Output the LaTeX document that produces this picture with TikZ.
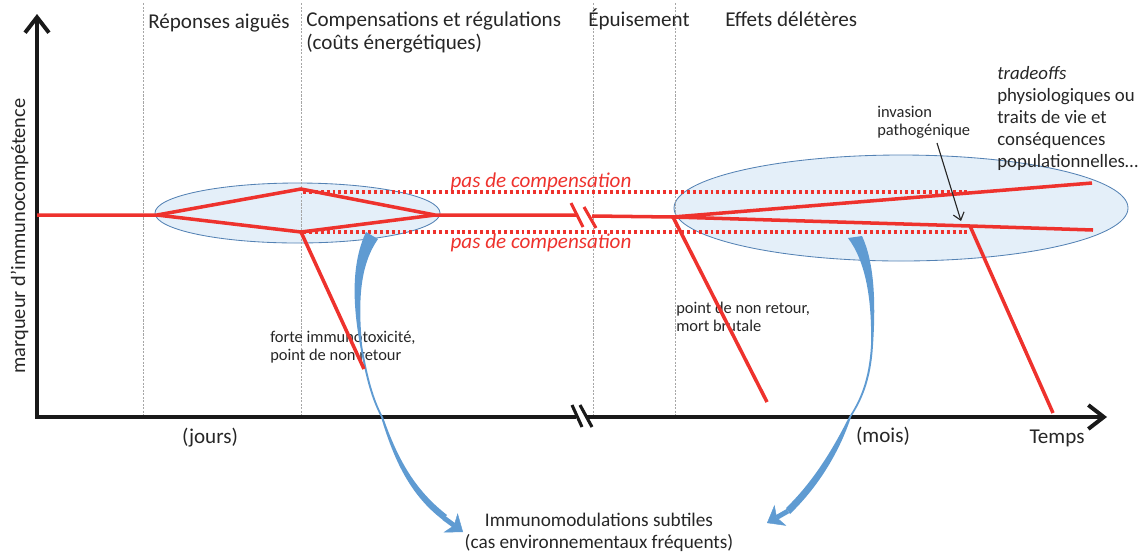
\documentclass[tikz,border=0pt]{standalone}
\usepackage{fontspec}
\setmainfont{Carlito}
\usetikzlibrary{arrows.meta}

\definecolor{redline}{RGB}{238,50,45}
\definecolor{zonefill}{RGB}{228,239,249}
\definecolor{zonedraw}{RGB}{84,130,180}
\definecolor{bluearrow}{RGB}{95,155,210}
\definecolor{textgray}{RGB}{38,38,38}

\begin{document}
\begin{tikzpicture}[x=0.025cm, y=-0.025cm,
  axis/.style={line width=2.8pt, black!90},
  curve/.style={line width=2.5pt, redline},
  nocomp/.style={line width=2.2pt, redline, dash pattern=on 2.1pt off 2.1pt},
  phase/.style={gray!70, line width=0.5pt, dash pattern=on 1.5pt off 1pt},
  zone/.style={fill=zonefill, draw=zonedraw, line width=0.6pt},
  header/.style={font=\fontsize{15pt}{16.3pt}\selectfont, text=textgray, inner sep=0pt, align=left},
  note/.style={font=\fontsize{11.7pt}{12.8pt}\selectfont, text=textgray, inner sep=0pt, align=left},
  side/.style={font=\fontsize{13.4pt}{15.6pt}\selectfont, text=textgray, inner sep=0pt, align=left}]

  \useasboundingbox (0,0) rectangle (1141,555);

  % Zones
  \draw[zone] (297.5,213) ellipse [x radius=142.5, y radius=30];
  \draw[zone] (901,208) ellipse [x radius=227, y radius=53];

  % Phase separators
  \foreach \x in {143,301,593,675}
    \draw[phase] (\x,3) -- (\x,417);

  % Headers (multi-line nodes sit on their last baseline)
  \node[header, anchor=base west] (acute) at (148,28) {Réponses aiguës};
  \node[header, anchor=base west] (comp) at (306,49) {Compensations et régulations\\(coûts énergétiques)};
  \node[header, anchor=base west] (exhaust) at (588,26) {Épuisement};
  \node[header, anchor=base west] (harm) at (725,26) {Effets délétères};

  % Axis labels
  \node[header, anchor=base, rotate=90, font=\fontsize{14.5pt}{16pt}\selectfont] (ylab) at (25,236) {marqueur d’immunocompétence};
  \node[header, anchor=base] (days) at (210,443) {(jours)};
  \node[header, anchor=base] (months) at (883,442) {(mois)};
  \node[header, anchor=base] (time) at (1057,443) {Temps};

  % Notes
  \node[note, anchor=base west] (toxic) at (270,360) {forte immunotoxicité,\\point de non retour};
  \node[note, anchor=base west] (death) at (676,331) {point de non retour,\\mort brutale};
  \node[note, anchor=base west] (invtxt) at (877,135) {invasion\\pathogénique};
  \node[side, anchor=base west] (trade) at (997,167) {\textit{tradeoffs}\\physiologiques ou\\traits de vie et\\conséquences\\populationnelles…};
  \node[side, anchor=base, align=center, font=\fontsize{13.7pt}{15.6pt}\selectfont] (subtle) at (599,548) {Immunomodulations subtiles\\(cas environnementaux fréquents)};
  \node[header, anchor=base, text=redline, font=\fontsize{15pt}{16pt}\itshape] (nocup) at (541,187) {pas de compensation};
  \node[header, anchor=base, text=redline, font=\fontsize{15pt}{16pt}\itshape] (nocdown) at (541,248) {pas de compensation};

  % Axes
  \coordinate (origin) at (37,417);
  \draw[axis, {Straight Barb[length=11pt, width=17pt]}-] (37,14) -- (origin) -- (576,417);
  \draw[axis, -{Straight Barb[length=11pt, width=17pt]}] (587,417) -- (1107,417);
  \draw[axis, line width=2.2pt] (572,405) -- (582,427);
  \draw[axis, line width=2.2pt] (580,405) -- (592,427);

  % Key points of the response
  \coordinate (base) at (37,215);
  \coordinate (split) at (157,215);
  \coordinate (up) at (301,189);
  \coordinate (down) at (301,232);
  \coordinate (merge) at (435,215);
  \coordinate (brkL) at (578,215);
  \coordinate (brkR) at (592,216);
  \coordinate (junc) at (673,217);
  \coordinate (upend) at (1092,183);
  \coordinate (lowend) at (1093,230);
  \coordinate (inv) at (970,226);

  % No compensation
  \draw[nocomp] (303,192) -- (968,192);
  \draw[nocomp] (303,232) -- (968,232);

  % Blue arrows
  \fill[bluearrow] (366,232) .. controls (352,262) and (352,300) .. (360,345)
    .. controls (366,380) and (372,400) .. (381,417)
    .. controls (394,460) and (410,495) .. (443,520) -- (447,515)
    .. controls (415,490) and (398,460) .. (383,417)
    .. controls (374,400) and (368,380) .. (362,345)
    .. controls (358,300) and (360,265) .. (378,239) -- cycle;
  \draw[bluearrow, line width=3.5pt, -{Stealth[length=11pt, width=17pt, inset=3pt, line width=0.3pt]}] (444,518) -- (463,532);
  \fill[bluearrow] (848,238) .. controls (866,262) and (872,300) .. (871,345)
    .. controls (869,380) and (860,400) .. (849,417)
    .. controls (835,445) and (815,480) .. (786,508) -- (790,514)
    .. controls (820,485) and (840,450) .. (851,417)
    .. controls (862,400) and (871,380) .. (873,345)
    .. controls (876,300) and (874,262) .. (862,236) -- cycle;
  \draw[bluearrow, line width=3.5pt, -{Stealth[length=11pt, width=17pt, inset=3pt, line width=0.3pt]}] (788,511) -- (767,523);

  % Response curves
  \draw[curve] (base) -- (split) -- (up) -- (merge) -- (brkL);
  \draw[curve] (split) -- (down) -- (merge);
  \draw[curve] (down) -- (364,369);
  \draw[curve, line width=2.2pt] (571,203) -- (583,227);
  \draw[curve, line width=2.2pt] (584,207) -- (596,228);
  \draw[curve] (brkR) -- (junc) -- (upend);
  \draw[curve] (junc) -- (inv) -- (lowend);
  \draw[curve] (junc) -- (767,402);
  \draw[curve] (inv) -- (1053,413);

  % Pathogen invasion
  \coordinate (invfrom) at (937,143);
  \draw[line width=0.8pt, textgray, -{Straight Barb[length=5pt, width=8pt]}] (invfrom) -- (961,221);
\end{tikzpicture}
\end{document}
